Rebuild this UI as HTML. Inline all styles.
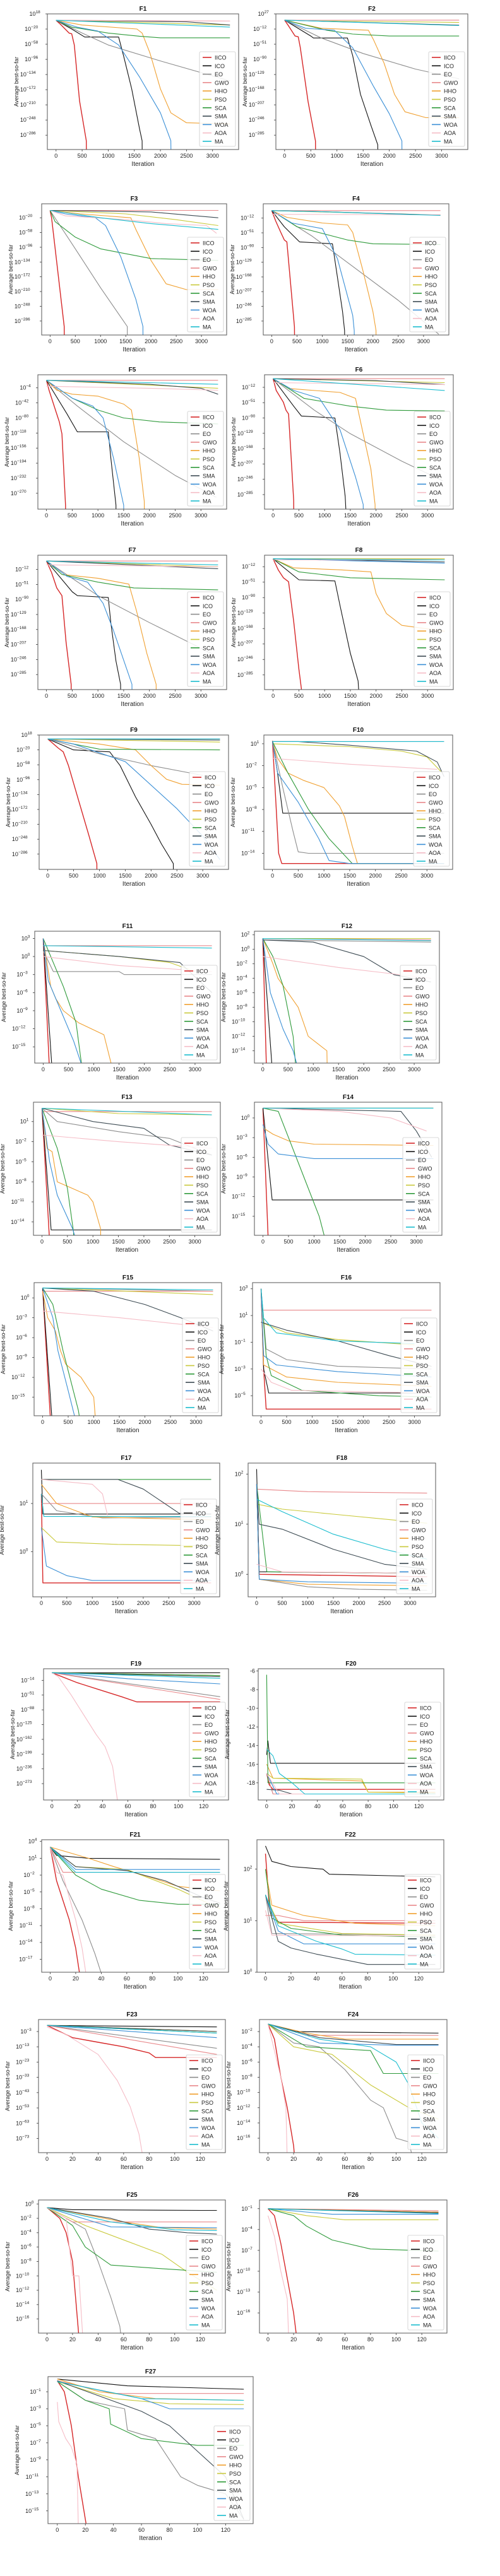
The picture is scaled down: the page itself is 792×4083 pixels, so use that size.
<!DOCTYPE html>
<html><head><meta charset="utf-8"><style>
html,body{margin:0;padding:0;background:#fff}
svg{display:block}
text{font-family:"Liberation Sans",sans-serif}
</style></head><body>
<svg id="fig" width="792" height="4083" viewBox="0 0 792 4083" xmlns="http://www.w3.org/2000/svg"></svg>
<script>
// Series order: IICO, ICO, EO, GWO, HHO, PSO, SCA, SMA, WOA, AOA, MA  (points: x, log10(y))
const algorithms = ["IICO","ICO","EO","GWO","HHO","PSO","SCA","SMA","WOA","AOA","MA"];
const colors = ["#d62728","#111111","#8c8c8c","#e8878a","#f0a030","#c9c93a","#2e9a3a","#3c4a52","#3a8fd6","#f5bcc6","#1bbdcf"];
const bigTicksX = [0,500,1000,1500,2000,2500,3000];
const smallTicksX = [0,20,40,60,80,100,120];

const F1 = [[0,2,100,-10,250,-30,300,-32,350,-60,450,-200,580,-300,585,-400],[0,2,300,-20,550,-40,1200,-40,1300,-90,1450,-170,1600,-270,1650,-300,1655,-400],[0,2,500,-30,1000,-60,2000,-100,3333,-150],[0,2,3333,0],[0,2,500,-10,1550,-20,1650,-30,1800,-80,2000,-170,2200,-230,2500,-255,3333,-258],[0,2,3333,-10],[0,2,300,-15,1000,-30,1600,-38,2000,-42,3333,-42],[0,2,2500,-2,3333,-10],[0,2,400,-15,800,-25,1200,-60,1600,-140,2000,-230,2200,-300,2210,-400],[0,2,3333,0],[0,2,3333,-15]];
const F2 = [[0,11,80,-5,200,-30,260,-32,300,-60,450,-200,590,-300,595,-400],[0,11,500,-30,550,-35,1200,-35,1300,-80,1450,-180,1650,-260,1780,-310,1785,-400],[0,11,700,-35,1500,-75,2500,-115,3333,-140],[0,11,3333,11],[0,11,700,-10,1600,-15,1700,-40,1900,-100,2100,-180,2300,-225,2700,-240,3333,-240],[0,11,3333,5],[0,11,800,-15,1300,-25,2000,-30,3333,-30],[0,11,3333,-2],[0,11,400,-10,950,-15,1300,-60,1700,-160,2000,-230,2240,-300,2245,-400],[0,11,3333,10],[0,11,3333,-3]];
const F3 = [[0,-1,30,-20,280,-300,285,-400],[0,-1,3333,-1],[0,-1,500,-100,1000,-200,1530,-300,1535,-400],[0,-1,3333,-1],[0,-1,600,-10,1600,-20,1700,-50,2000,-130,2300,-190,2700,-205,3333,-205],[0,-1,1500,-10,2500,-25,3333,-40],[0,-1,100,-30,500,-70,1000,-100,2000,-125,3333,-130],[0,-1,2000,-5,3333,-20],[0,-1,300,-10,900,-20,1100,-40,1400,-120,1700,-230,1840,-300,1845,-400],[0,-1,300,-15,1500,-25,2300,-35,3100,-40,3300,-60],[0,-1,1000,-20,2000,-35,3333,-50]];
const F4 = [[0,8,80,-20,180,-50,250,-70,300,-75,350,-150,450,-300,455,-400],[0,8,250,-35,550,-75,1200,-80,1300,-170,1400,-260,1440,-310,1445,-400],[0,8,800,-60,1500,-130,2500,-230,3300,-320],[0,8,3333,8],[0,8,300,-10,1000,-25,1500,-30,1600,-50,1800,-150,2000,-260,2060,-310,2065,-400],[0,8,3333,-4],[0,8,500,-35,1500,-70,2000,-80,3333,-82],[0,8,1000,5,3333,-4],[0,8,400,-25,1000,-40,1300,-120,1600,-270,1630,-310,1635,-400],[0,-2,3333,-3],[0,8,1000,5,3333,-5]];
const F5 = [[0,15,50,-10,150,-50,250,-90,300,-120,370,-300,375,-400],[0,15,400,-70,600,-115,1200,-115,1250,-180,1350,-300,1355,-400],[0,15,600,-50,1500,-140,2500,-225,3300,-280],[0,15,3333,15],[0,15,200,-10,500,-20,1000,-25,1500,-45,1650,-60,1800,-180,1900,-290,1905,-400],[0,15,3333,-5],[0,15,500,-30,1000,-60,1500,-80,2200,-90,3333,-95],[0,15,2000,5,3000,-5,3333,-20],[0,15,500,-30,900,-50,1100,-80,1300,-180,1500,-300,1505,-400],[0,0,2000,-5,3333,-10],[0,15,3333,5]];
const F6 = [[0,10,60,-20,200,-50,250,-70,300,-80,400,-300,405,-400],[0,10,400,-60,550,-85,1200,-90,1300,-180,1400,-290,1420,-340],[0,10,800,-70,1500,-130,2500,-200,3300,-250],[0,10,3333,10],[0,10,300,-15,1300,-25,1600,-40,1700,-100,1900,-220,1980,-310,1985,-400],[0,10,3333,0],[0,10,600,-40,1500,-60,2200,-70,3333,-72],[0,10,2000,5,3333,-5],[0,10,400,-20,900,-40,1300,-120,1600,-240,1750,-310,1755,-400],[0,0,3333,-5],[0,10,3333,-20]];
const F7 = [[0,10,100,-20,200,-60,300,-80,380,-200,480,-310,485,-400],[0,10,500,-70,600,-80,1200,-85,1250,-150,1350,-250,1440,-310,1445,-400],[0,10,1000,-80,2000,-150,3200,-230],[0,10,3333,10],[0,10,300,-25,1000,-35,1600,-50,1750,-120,1950,-230,2130,-310,2135,-400],[0,10,3333,-5],[0,10,300,-25,1000,-45,1700,-60,3333,-65],[0,10,3333,-10],[0,10,400,-30,800,-45,1100,-100,1300,-170,1660,-310,1665,-400],[0,0,3333,-5],[0,10,3333,0]];
const F8 = [[0,8,100,-20,200,-40,300,-50,400,-150,500,-270,550,-320,555,-400],[0,8,500,-45,1200,-48,1300,-110,1500,-230,1650,-300,1670,-340],[0,8,3333,5],[0,8,3333,8],[0,8,400,-15,1300,-20,1900,-25,2000,-80,2200,-130,2500,-160,3333,-175],[0,8,3333,8],[0,8,500,-25,1500,-40,3333,-45],[0,8,3333,0],[0,8,3333,-3],[0,5,3333,5],[0,8,3333,5]];
const F9 = [[0,8,200,-15,300,-25,400,-60,600,-150,800,-240,950,-310,955,-400],[0,8,500,-20,1200,-25,1400,-60,1700,-140,2000,-210,2200,-260,2430,-310,2435,-400],[0,8,1000,-30,2000,-60,3000,-85],[0,8,3333,8],[0,8,1000,-5,1700,-20,2000,-60,2300,-95,2600,-108,3333,-110],[0,8,3333,0],[0,8,1000,-18,3333,-20],[0,8,3333,5],[0,8,500,-5,1500,-50,2500,-170,3000,-240,3333,-300],[0,8,3333,8],[0,8,3333,8]];
const F10 = [[0,1.4,50,-5,120,-14,180,-15.4,3333,-15.4],[0,1.4,100,-3,200,-8.5,3333,-8.5],[0,1.4,200,-5,400,-11,500,-13.8,700,-14,3333,-14],[0,1.3,3333,1.3],[0,1.3,100,-1,300,-3,600,-4,1000,-5,1300,-7.5,1400,-9,1550,-13,1650,-15.4,3333,-15.4],[0,1.0,1500,0.6,2500,0,3000,-0.8,3300,-3],[0,1.3,300,-3,700,-8,1100,-12,1550,-15.4,3333,-15.4],[0,1.3,500,1.3,1500,0.8,2800,0,3200,-1.5,3333,-3.5],[0,1.3,100,-3,500,-7,900,-12,1100,-15,1500,-15.4,3333,-15.4],[0,-1,1500,-1.8,3200,-2.5],[0,1.3,3333,1.3]];
const F11 = [[0,3,120,-18],[0,3,170,-18],[0,1,200,-2.5,1500,-2.5,1600,-3,3333,-3],[0,1.8,3333,1.8],[0,3,150,-5,250,-7,400,-9,700,-11,1200,-13,1350,-18],[0,1,1500,0,2500,-1,3000,-2.5],[0,3,250,-2,400,-5,650,-11,760,-18],[0,1,1500,0,2700,-1,3333,-6],[0,3,100,-4,300,-8,600,-14,760,-18],[0,0,1500,-1.5,3333,-2.5],[0,1.8,3333,1.4]];
const F12 = [[0,1.5,70,-16],[0,1.5,180,-16],[0,1.3,3333,1],[0,1.5,3333,1.3],[0,1.5,200,-2,300,-4,500,-6,700,-8,900,-12,1270,-14,1275,-16],[0,1.5,3333,1.5],[0,1.5,200,-1,400,-5,600,-12,650,-16],[0,1.3,1000,1,2000,-1,2600,-3.5,3333,-4.5],[0,1.5,150,-6,400,-11,600,-14,680,-16],[0,-1,1500,-2.5,3333,-4],[0,1.5,3333,1.2]];
const F13 = [[0,3,150,-17],[0,3,180,-15.2,3333,-15.2],[0,3,300,1,1500,-0.5,2500,-1.5,3333,-4],[0,2.5,3333,2.5],[0,3,100,-3,200,-3.5,300,-8,600,-9,900,-10,1000,-11,1150,-15,1155,-17],[0,3,1500,2.2,3333,2],[0,3,300,-3,500,-9,620,-15.5,625,-17],[0,3,1000,1,2000,0,2500,-2.5,3333,-4],[0,3,150,-5,300,-10,600,-15,680,-17],[0,-1,1500,-2,3333,-3],[0,3,3333,2]];
const F14 = [[0,1.5,100,-18],[0,1.5,180,-12.5,3333,-12.5],[0,1.5,3333,1.5],[0,1.5,3333,1.5],[0,-1.5,200,-2.5,500,-3.5,1000,-4,3333,-4.2],[0,1.5,3333,1.5],[0,1.5,300,1,500,-3,800,-9,1100,-15,1200,-18],[0,1.5,2700,1,3000,-2,3300,-6],[0,-1,100,-4,300,-5.5,600,-5.8,1000,-6.2,3333,-6.2],[0,1.5,1500,1,2500,0,3200,-2],[0,1.5,3333,1.5]];
const F15 = [[0,1.5,150,-18],[0,1.5,180,-18],[0,1.5,3333,1],[0,1,3333,1],[0,1,100,-3,250,-5,350,-8,450,-10,600,-11,750,-12,1000,-15,1030,-18],[0,1.5,3333,0.5],[0,1.5,200,-1,400,-8,700,-17,720,-18],[0,1.5,1000,1,2000,-1,2700,-3,3333,-5],[0,1.5,200,-3,300,-8,500,-14,630,-18],[0,-2,1500,-3,3333,-4.5],[0,1.5,3333,1.2]];
const F16 = [[0,3,50,-3,100,-6,3333,-6],[0,3,50,-3,150,-4.8,3333,-4.8],[0,3,100,-1.5,500,-2.3,1500,-2.8,3333,-3.0],[0,1.4,3333,1.4],[0,3,50,-2.7,500,-3.6,1500,-4,3333,-4.3],[0,0.5,500,-0.3,1500,-0.8,3000,-1.2],[0,3,100,-2,200,-3.5,800,-4.6,2300,-5,3333,-5.1],[0,0.5,500,-0.1,1500,-0.9,2500,-2,3333,-2.8],[0,3,50,-2,300,-2.7,1500,-3.2,3333,-3.6],[0,-3,200,-4,600,-4.6,3333,-4.8],[0,3,50,0.8,300,-0.3,1500,-0.9,3000,-1.1]];
const F17 = [[0,1.2,30,-0.65,3333,-0.65],[0,1.7,30,0.78,3333,0.78],[0,1.2,300,0.85,1200,0.7,3333,0.72],[0,1,3333,1],[0,1.4,300,1.0,1000,0.72,3333,0.66],[0,0.5,300,0.2,1500,0.15,3333,0.12],[0,1.5,3333,1.5],[0,1.5,1500,1.5,2000,1.3,2700,0.8,3333,0.78],[0,0.5,100,-0.3,500,-0.5,1000,-0.6,3333,-0.6],[0,1.5,1000,1.4,1200,1.2,1300,0.75],[0,1.2,50,0.73,3333,0.73]];
const F18 = [[0,1.8,50,0,3333,-0.05],[0,2.1,50,0.05,3333,0.02],[0,1.8,50,-0.1,1000,-0.25,2000,-0.3,3333,-0.32],[0,1.7,1000,1.65,3333,1.62],[0,1.8,50,-0.1,1000,-0.2,3333,-0.23],[0,1.4,500,1.3,1500,1.2,3333,1.02],[0,1.8,200,0.05,3333,0.02],[0,1.8,50,1,500,0.9,1500,0.5,2500,0.2,3333,0.1],[0,1.8,50,-0.1,1000,-0.15,3333,-0.18],[0,0.2,500,0.05,3333,0.02],[0,1.5,500,1.25,1500,0.8,2500,0.5,3333,0.3]];
const F19 = [[0,5,20,-20,40,-40,55,-55,67,-68,133,-68],[0,5,133,5],[0,5,133,-55],[0,5,133,-62],[0,5,133,-2],[0,5,133,-2],[0,5,133,-2],[0,5,133,-5],[0,5,60,-10,133,-23],[0,5,5,-5,15,-50,25,-100,35,-150,42,-180,48,-230,52,-320],[0,5,133,-9]];
const F20 = [[0,-17,2,-18.2,5,-18.7,133,-18.7],[0,-15,1,-13.5,3,-15.9,133,-15.9],[0,-17,5,-19.2,133,-19.2],[0,-17,5,-19.2,133,-19.2],[0,-16,5,-17.5,75,-17.8,80,-19,133,-19],[0,-17,5,-17.5,75,-17.6,80,-19,133,-19.1],[0,-6.4,1,-18,133,-18],[0,-18.7,10,-18.8,20,-19.2,133,-19.2],[0,-17,8,-19.2,133,-19.2],[0,-17,10,-19.2,133,-19.2],[0,-14.4,5,-15.1,10,-17,20,-18,30,-19.2,133,-19.2]];
const F21 = [[0,3,5,-3,15,-10,20,-15,23,-19.5],[0,3,5,1.5,30,1,133,0.8],[0,3,10,-3,25,-10,35,-16,40,-19.5],[0,3,10,-1.5,133,-1.5],[0,3,30,1,50,-0.5,80,-2.5,100,-4,133,-4.8],[0,3,20,-0.5,60,-1,100,-4.5,133,-8],[0,3,20,-2,40,-4.5,70,-6.5,100,-7.2,133,-7.2],[0,3,20,-0.5,60,-1.2,90,-3,120,-6,133,-7],[0,3,20,-1,133,-1],[0,3,5,-1.5,10,-2,15,-6,20,-10,25,-15,28,-19.5],[0,3,20,-1.5,133,-1.5]];
const F22 = [[0,2.3,3,1.3,10,0.97,133,0.95],[0,2.45,5,2.15,20,2.05,45,2.0,50,1.9,133,1.85],[0,1.5,5,0.75,133,0.72],[0,1.1,10,1.1,30,1.0,133,1.0],[0,2,5,1.3,30,1.1,70,0.95,133,0.9],[0,1.5,10,0.95,60,0.75,133,0.72],[0,2,5,1.05,20,0.85,60,0.72,133,0.68],[0,1.5,10,0.6,20,0.47,40,0.35,80,0.15,133,0.15],[0,1.5,10,0.8,30,0.55,133,0.55],[0,1.2,5,0.72,133,0.7],[0,1.5,10,0.9,40,0.6,60,0.45,70,0.35,133,0.33]];
const F23 = [[0,1,20,-7,40,-10,60,-13,80,-17,85,-20,133,-20],[0,1,133,0],[0,1,133,-14],[0,1,133,-18],[0,1,133,-3],[0,1,133,-3],[0,1,133,-4],[0,1,133,-3],[0,1,133,-7],[0,0,15,-5,40,-18,55,-35,65,-52,72,-70,75,-85],[0,1,133,-4]];
const F24 = [[0,-1,5,-3,10,-8,15,-12,20,-17,21,-19],[0,-1,20,-2,133,-2.2],[0,-1,20,-3.5,40,-4,60,-7,80,-11,90,-12,100,-16,110,-16.5,112,-18],[0,-1,30,-2.5,133,-2.5],[0,-1,30,-2.2,60,-3,133,-3],[0,-1,20,-4,50,-5,80,-9,110,-12,133,-13.5],[0,-1,30,-4,80,-4.5,90,-7.5,133,-7.5],[0,-1,40,-2.8,100,-3.7,133,-3.7],[0,-1,40,-3.5,100,-3.8,133,-3.8],[0,-1,10,-8,14,-12,15,-19],[0,-1,40,-3,80,-4,100,-6,110,-9,120,-14,133,-16]];
const F25 = [[0,-0.5,10,-2,15,-4,20,-8,25,-18.5],[0,-0.5,20,-0.8,120,-0.9,133,-0.9],[0,-0.5,30,-3.5,40,-8,50,-13,57,-17,58,-18.5],[0,-0.5,20,-2.5,133,-2.5],[0,-0.5,60,-2.5,90,-3.3,133,-3.5],[0,-0.5,30,-3,60,-5,90,-7,110,-9.5,133,-12],[0,-0.5,20,-3,30,-6,50,-8.5,90,-9,133,-9.5],[0,-0.5,50,-2,80,-3.5,110,-4,133,-4.2],[0,-0.5,50,-3.2,133,-3.3],[0,-0.5,15,-2,20,-10,25,-10,28,-18.5],[0,-0.5,50,-2.5,100,-3.6,133,-3.7]];
const F26 = [[0,-1,5,-2,10,-6,15,-11,20,-16,22,-19],[0,-1,133,-1.5],[0,-1,133,-1.6],[0,-1,133,-1.3],[0,-1,133,-1.5],[0,-1,30,-2,60,-2.6,133,-2.6],[0,-1,20,-2,30,-3.5,50,-5.5,80,-6.8,133,-7.1],[0,-1,133,-1.6],[0,-1,50,-1.8,133,-1.8],[0,-2,5,-5,10,-10,15,-14,16,-19],[0,-1,133,-1.7]];
const F27 = [[0,0.3,5,-1,10,-5,15,-11,20,-16,21,-17],[0,0.5,50,-0.3,133,-0.7],[0,0.2,20,-2,48,-3,50,-5.5,70,-6.5,80,-9,88,-11,100,-12,120,-13,133,-16],[0,0.3,40,-1.2,133,-1.2],[0,0.5,30,-1.0,70,-1.8,133,-2],[0,0.2,40,-1.8,80,-2.4,133,-2.5],[0,0.2,20,-2,37,-3,38,-4.8,60,-6.5,100,-7.3,133,-7.3],[0,0.3,60,-3.3,80,-5,100,-8,120,-11,133,-16],[0,0.2,60,-1.8,80,-3,133,-3],[0,-2.2,1,-4.5,6,-6.5,10,-7.5,14,-9.5,15,-17],[0,0.2,60,-1.8,133,-2]];

const yTicksF1 = [18,-20,-58,-96,-134,-172,-210,-248,-286];
const yTicksF2 = [27,-12,-51,-90,-129,-168,-207,-246,-285];
const yTicks39 = [-12,-51,-90,-129,-168,-207,-246,-285];
const yTicksF3 = [-20,-58,-96,-134,-172,-210,-248,-286];
const yTicksF5 = [-4,-42,-80,-118,-156,-194,-232,-270];
const yTicksF10 = [1,-2,-5,-8,-11,-14];
const yTicksF11 = [3,0,-3,-6,-9,-12,-15];
const yTicksF12 = [2,0,-2,-4,-6,-8,-10,-12,-14];
const yTicksF14 = [0,-3,-6,-9,-12,-15];
const yTicksF16 = [3,1,-1,-3,-5];
const yTicksF17 = [1,0];
const yTicksF18 = [2,1,0];
const yTicksF19 = [-14,-51,-88,-125,-162,-199,-236,-273];
const yTicksF20 = [-6,-8,-10,-12,-14,-16,-18];
const yTicksF21 = [4,1,-2,-5,-8,-11,-14,-17];
const yTicksF22 = [2,1,0];
const yTicksF23 = [-3,-13,-23,-33,-43,-53,-63,-73];
const yTicksF24 = [-2,-4,-6,-8,-10,-12,-14,-16];
const yTicksF25 = [0,-2,-4,-6,-8,-10,-12,-14,-16];
const yTicksF26 = [-1,-4,-7,-10,-13,-16];
const yTicksF27 = [-1,-3,-5,-7,-9,-11,-13,-15];

// panel layout: [name, data, x0, x1, y0, y1, xmax, yMin, yMax, yTicks, linear]
const panels = [
 ["F1",F1,75,378,22,237,3333,-322,18,yTicksF1,false],
 ["F2",F2,437,741,22,237,3333,-322,27,yTicksF2,false],
 ["F3",F3,66,359,323,531,3333,-322,16,yTicksF3,false],
 ["F4",F4,417,711,323,531,3333,-322,26,yTicks39,false],
 ["F5",F5,60,359,594,807,3333,-310,29,yTicksF5,false],
 ["F6",F6,419,718,594,807,3333,-322,20,yTicks39,false],
 ["F7",F7,60,359,880,1093,3333,-324,25,yTicks39,false],
 ["F8",F8,419,718,880,1093,3333,-322,17,yTicks39,false],
 ["F9",F9,62,362,1165,1378,3333,-325,18,yTicksF1,false],
 ["F10",F10,418,717,1165,1378,3333,-16.2,2.2,yTicksF10,false],
 ["F11",F11,55,349,1476,1685,3333,-17.7,4.2,yTicksF11,false],
 ["F12",F12,403,696,1476,1685,3333,-15.7,2.5,yTicksF12,false],
 ["F13",F13,53,349,1747,1958,3333,-16,3.9,yTicksF10,false],
 ["F14",F14,403,700,1747,1958,3333,-17.9,2.4,yTicksF14,false],
 ["F15",F15,54,351,2033,2244,3333,-17.8,2.3,yTicksF14,false],
 ["F16",F16,400,697,2033,2244,3333,-6.5,3.46,yTicksF16,false],
 ["F17",F17,52,348,2319,2531,3333,-0.94,1.84,yTicksF17,false],
 ["F18",F18,393,690,2319,2531,3333,-0.45,2.22,yTicksF18,false],
 ["F19",F19,69,362,2645,2853,133,-314,15,yTicksF19,false],
 ["F20",F20,409,703,2645,2853,133,-19.84,-5.76,yTicksF20,true],
 ["F21",F21,66,362,2916,3126,133,-19.3,4.3,yTicksF21,false],
 ["F22",F22,407,703,2916,3126,133,0,2.57,yTicksF22,false],
 ["F23",F23,61,357,3201,3412,133,-82.3,4.85,yTicksF23,false],
 ["F24",F24,411,708,3201,3412,133,-17.9,-0.42,yTicksF24,false],
 ["F25",F25,61,357,3487,3698,133,-17.96,0.55,yTicksF25,false],
 ["F26",F26,411,708,3487,3698,133,-18.9,0.25,yTicksF26,false],
 ["F27",F27,76,401,3767,4000,133,-16.5,0.78,yTicksF27,false]
];

const NS = "http://www.w3.org/2000/svg";
const fig = document.getElementById("fig");
function mk(tag, attrs, parent){
  const e = document.createElementNS(NS, tag);
  for (const k in attrs) e.setAttribute(k, attrs[k]);
  (parent||fig).appendChild(e);
  return e;
}
const defs = mk("defs", {});

panels.forEach((p, pi) => {
  const [name, data, x0, x1, y0, y1, xmax, yMin, yMax, yTicks, linear] = p;
  const g = mk("g", {});
  
  
  const xlo = -0.05 * xmax, xhi = 1.05 * xmax;
  const sx = v => x0 + (v - xlo) / (xhi - xlo) * (x1 - x0);
  const sy = v => y1 - (v - yMin) / (yMax - yMin) * (y1 - y0);

  const cp = mk("clipPath", {id: "clip" + pi}, defs);
  mk("rect", {x: x0, y: y0, width: x1 - x0, height: y1 - y0}, cp);

  const title = mk("text", {x: (x0 + x1) / 2, y: y0 - 5, "text-anchor": "middle", "font-size": "10", "font-weight": "bold", fill: "#111"}, g);
  title.textContent = name;
  
  

  const xt = xmax > 1000 ? bigTicksX : smallTicksX;
  xt.forEach(t => {
    const x = sx(t);
    mk("line", {x1: x, x2: x, y1: y1, y2: y1 + 3, stroke: "#333", "stroke-width": "0.8"}, g);
    const tx = mk("text", {x: x, y: y1 + 13, "text-anchor": "middle", "font-size": "9", fill: "#222"}, g);
    tx.textContent = t;
    
    
  });
  const xl = mk("text", {x: (x0 + x1) / 2, y: y1 + 26, "text-anchor": "middle", "font-size": "10", "font-family": "Liberation Serif, serif", fill: "#222"}, g);
  xl.textContent = "Iteration";
  
  

  yTicks.forEach(t => {
    const y = sy(t);
    mk("line", {x1: x0 - 3, x2: x0, y1: y, y2: y, stroke: "#333", "stroke-width": "0.8"}, g);
    const ty = mk("text", {x: x0 - 5, y: y + 3, "text-anchor": "end", "font-size": "9", fill: "#222"}, g);
    
    
    if (linear) { ty.textContent = t; }
    else {
      const supLen = String(t).length;
      ty.setAttribute("x", x0 - 4 - supLen * 3.6);
      ty.textContent = "10";
      const sp = mk("tspan", {dy: "-4", "font-size": "6.5"}, ty);
      sp.textContent = (t < 0 ? "\u2212" + (-t) : t);
    }
  });
  const ylx = x0 - 46, yly = (y0 + y1) / 2;
  const yl = mk("text", {x: ylx, y: yly, "text-anchor": "middle", "font-size": "9", "font-family": "Liberation Serif, serif", fill: "#222", transform: "rotate(-90 " + ylx + " " + yly + ")"}, g);
  yl.textContent = "Average best-so-far";
  
  

  const sg = mk("g", {"clip-path": "url(#clip" + pi + ")"}, g);
  data.forEach((s, si) => {
    let d = "";
    for (let i = 0; i < s.length; i += 2) d += (i ? "L" : "M") + sx(s[i]).toFixed(1) + " " + sy(s[i + 1]).toFixed(1);
    const path = mk("path", {d: d, fill: "none", stroke: colors[si], "stroke-width": si === 0 ? "1.4" : "1.1", "stroke-linejoin": "round"}, sg);
    
    
  });

  mk("rect", {x: x0, y: y0, width: x1 - x0, height: y1 - y0, fill: "none", stroke: "#555", "stroke-width": "1"}, g);

  const lw = 57, lh = 150, lx = x1 - 5 - lw, ly = y1 - 5 - lh;
  const lg = mk("g", {}, g);
  
  
  mk("rect", {x: lx, y: ly, width: lw, height: lh, rx: 2, fill: "rgba(255,255,255,0.85)", stroke: "#ccc", "stroke-width": "0.8"}, lg);
  algorithms.forEach((a, i) => {
    const ey = ly + 9 + i * 13.3;
    const eg = mk("g", {}, lg);
    
    
    mk("line", {x1: lx + 5, x2: lx + 19, y1: ey, y2: ey, stroke: colors[i], "stroke-width": "1.6"}, eg);
    const lt = mk("text", {x: lx + 24, y: ey + 3.5, "font-size": "9", fill: "#222"}, eg);
    lt.textContent = a;
  });
});
</script>
</body></html>
